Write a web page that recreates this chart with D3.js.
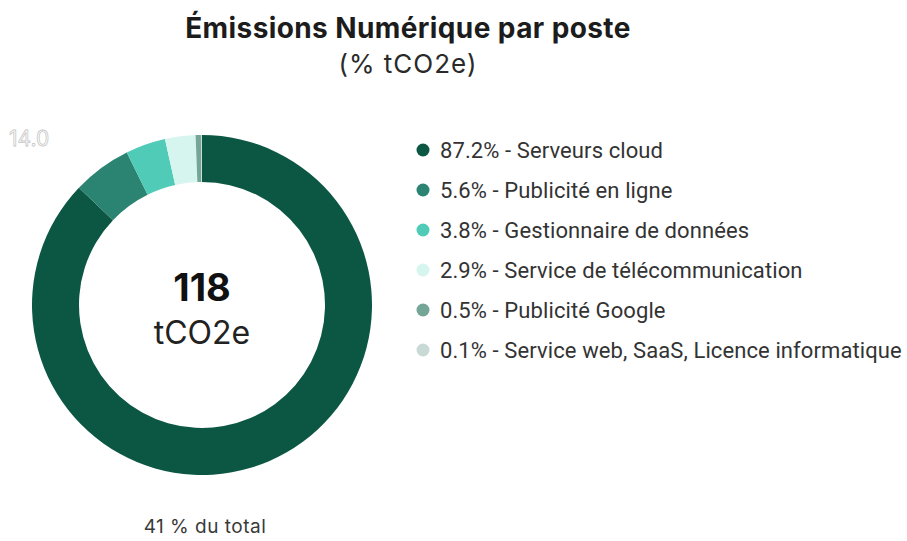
<!DOCTYPE html>
<html>
<head>
<meta charset="utf-8">
<script src="https://cdn.jsdelivr.net/npm/d3@7"></script>
<style>
  body { margin: 0; background: #fff; }
  svg { font-family: Inter, "Noto Sans", sans-serif; }
</style>
</head>
<body>
<svg id="chart" width="907" height="541"></svg>
<script>
// postes d'émission (ordre du graphique)
const categories = [
    'Serveurs cloud',
    'Publicité en ligne',
    'Gestionnaire de données',
    'Service de télécommunication',
    'Publicité Google',
    'Service web, SaaS, Licence informatique'
];
const shares = [87.2, 5.6, 3.8, 2.9, 0.5, 0.1];
const colors = ['#0c5743', '#2b8472', '#4fcbb8', '#d6f5ef', '#74a597', '#c9dad6'];
const total = 118;
const totalUnit = 'tCO2e';
const shareOfTotal = '41 % du total';

const svg = d3.select('#chart');
const cx = 202, cy = 305;
const outerR = 170, innerR = 123;

svg.append('text')
    .attr('x', 408).attr('y', 38)
    .attr('text-anchor', 'middle')
    .style('font-size', '28px').style('font-weight', 700).style('fill', '#1c1c1c')
    .style('letter-spacing', '0.4px')
    .text('Émissions Numérique par poste');

svg.append('text')
    .attr('x', 408).attr('y', 73)
    .attr('text-anchor', 'middle')
    .style('font-size', '26px').style('fill', '#2a2a2a')
    .style('letter-spacing', '1px')
    .text('(% tCO2e)');

// faint label left over in the corner
svg.append('text')
    .attr('x', 9).attr('y', 146)
    .style('font-size', '21px').style('fill', '#fff')
    .style('stroke', '#c8c8c8').style('stroke-width', 0.8)
    .text('14.0');

const pie = d3.pie().sort(null).value((d) => d.value);
const arc = d3.arc().innerRadius(innerR).outerRadius(outerR);
const data = categories.map((c, i) => ({ name: c, value: shares[i], color: colors[i] }));

const donut = svg.append('g')
    .attr('transform', `translate(${cx}, ${cy})`);

donut.selectAll('path')
    .data(pie(data))
    .enter()
    .append('path')
    .attr('d', arc)
    .attr('fill', (d) => d.data.color);

donut.append('text')
    .attr('y', -4)
    .attr('text-anchor', 'middle')
    .style('font-size', '38px').style('font-weight', 700).style('fill', '#111')
    .text(total);

donut.append('text')
    .attr('y', 39)
    .attr('text-anchor', 'middle')
    .style('font-size', '32px').style('fill', '#222')
    .text(totalUnit);

svg.append('text')
    .attr('x', 205).attr('y', 533)
    .attr('text-anchor', 'middle')
    .style('font-size', '19px').style('fill', '#3a3a3a')
    .style('letter-spacing', '0.5px')
    .text(shareOfTotal);

const legendY = d3.scalePoint()
    .domain(categories)
    .range([150, 350]);

const legend = svg.append('g')
    .selectAll('g')
    .data(data)
    .enter()
    .append('g')
    .attr('transform', (d) => `translate(423, ${legendY(d.name)})`);

legend.append('circle')
    .attr('r', 6.5)
    .attr('fill', (d) => d.color);

legend.append('text')
    .attr('x', 17).attr('dy', '0.35em')
    .style('font-family', 'Roboto, sans-serif')
    .style('font-size', '22px').style('fill', '#333')
    .style('letter-spacing', '0.1px')
    .text((d) => `${d.value}% - ${d.name}`);
</script>
</body>
</html>
